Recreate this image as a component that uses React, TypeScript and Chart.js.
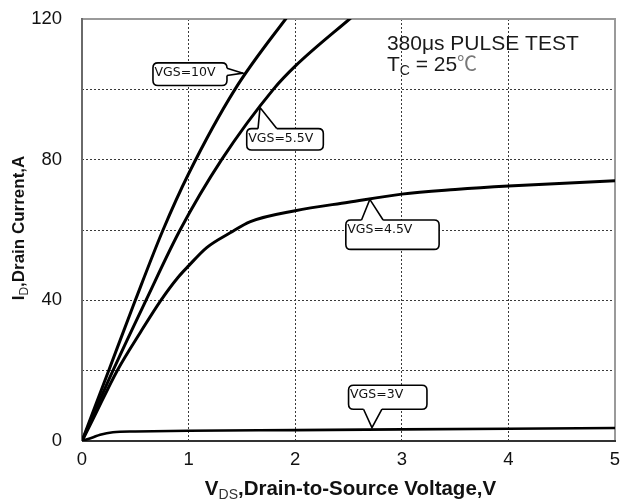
import React, { useEffect, useRef } from 'react';
import { Chart, registerables } from 'chart.js';

Chart.register(...registerables);

// Axis ticks
const xTicks = [0, 1, 2, 3, 4, 5];
const yTickLabels = [0, 40, 80, 120];

// Series: V_DS (V) vs I_D (A)
const vgs10X = [0, 0.25, 0.5, 0.76, 1.0, 1.435, 1.91, 2.0];
const vgs10Y = [0, 20, 40, 60, 76, 100, 120, 123.5];
const vgs55X = [0, 0.29, 0.6, 0.92, 1.31, 1.795, 2.0, 2.51, 2.6];
const vgs55Y = [0, 20, 40, 60, 80, 100, 106.6, 120, 122.3];
const vgs45X = [0, 0.1, 0.33, 0.55, 0.74, 0.9, 1.0, 1.17, 1.39, 1.58, 2.0, 2.5, 3.0, 3.5, 4.0, 5.0];
const vgs45Y = [0, 6, 20, 31, 40, 46.5, 49.8, 55, 59.2, 62.4, 65.5, 67.9, 70.2, 71.5, 72.5, 74];
const vgs3X = [0, 0.1, 0.17, 0.29, 0.5, 1, 2, 3, 4, 5];
const vgs3Y = [0, 1.0, 1.8, 2.5, 2.7, 2.9, 3.1, 3.3, 3.5, 3.7];

const seriesNames = ['VGS=10V', 'VGS=5.5V', 'VGS=4.5V', 'VGS=3V'];
const seriesX = [vgs10X, vgs55X, vgs45X, vgs3X];
const seriesY = [vgs10Y, vgs55Y, vgs45Y, vgs3Y];

// Callout tips (data coordinates)
const calloutTipX = [1.51, 1.67, 2.7, 2.72];
const calloutTipY = [104.6, 94.8, 68.7, 3.8];

// Note text
const noteLine1 = '380\u03bcs PULSE TEST';
const noteX = 2.86;
const noteY1 = 111.1;
const noteY2 = 105.1;

const xTitleMain = 'V';
const xTitleSub = 'DS';
const xTitleRest = ',Drain-to-Source Voltage,V';
const yTitleMain = 'I';
const yTitleSub = 'D';
const yTitleRest = ',Drain Current,A';

// Callout geometry (pixels relative to tip)
const calloutBoxes = [
  { dx: -90, dy: -10.3, w: 74, h: 22.6, wedge: [[-16, -5], [-16, 2.3]], inward: [-2, 0] },
  { dx: -13.3, dy: 21, w: 76.6, h: 21.4, wedge: [[-2, 21], [16.7, 21]], inward: [0, 2] },
  { dx: -24, dy: 20.6, w: 93.3, h: 29.4, wedge: [[-8.3, 20.6], [13.3, 20.6]], inward: [0, 2] },
  { dx: -23.4, dy: -42.4, w: 78.4, h: 24, wedge: [[-8.4, -18.4], [10, -18.4]], inward: [0, -2] },
];

function roundRectPath(ctx: CanvasRenderingContext2D, x: number, y: number, w: number, h: number, r: number) {
  ctx.beginPath();
  ctx.moveTo(x + r, y);
  ctx.lineTo(x + w - r, y);
  ctx.quadraticCurveTo(x + w, y, x + w, y + r);
  ctx.lineTo(x + w, y + h - r);
  ctx.quadraticCurveTo(x + w, y + h, x + w - r, y + h);
  ctx.lineTo(x + r, y + h);
  ctx.quadraticCurveTo(x, y + h, x, y + h - r);
  ctx.lineTo(x, y + r);
  ctx.quadraticCurveTo(x, y, x + r, y);
  ctx.closePath();
}

type Part = { t: string; font: string; dy: number; color?: string };

function drawParts(ctx: CanvasRenderingContext2D, parts: Part[], x: number, y: number, align: 'left' | 'center') {
  let total = 0;
  const widths = parts.map((p) => {
    ctx.font = p.font;
    const w = ctx.measureText(p.t).width;
    total += w;
    return w;
  });
  let cx = align === 'center' ? x - total / 2 : x;
  ctx.textAlign = 'left';
  ctx.textBaseline = 'alphabetic';
  parts.forEach((p, i) => {
    ctx.font = p.font;
    ctx.fillStyle = p.color || '#000';
    ctx.fillText(p.t, cx, y + p.dy);
    cx += widths[i];
  });
}

const overlayPlugin = {
  id: 'overlays',
  beforeDatasetsDraw(chart: any) {
    const { ctx, chartArea: a } = chart;
    ctx.save();
    ctx.lineCap = 'butt';
    ctx.strokeStyle = '#9a9a9a';
    ctx.lineWidth = 2;
    ctx.beginPath();
    ctx.moveTo(a.left, a.top);
    ctx.lineTo(a.right, a.top);
    ctx.lineTo(a.right, a.bottom);
    ctx.stroke();
    ctx.strokeStyle = '#6a6a6a';
    ctx.beginPath();
    ctx.moveTo(a.left, a.top - 1);
    ctx.lineTo(a.left, a.bottom);
    ctx.stroke();
    ctx.strokeStyle = '#333';
    ctx.beginPath();
    ctx.moveTo(a.left, a.bottom);
    ctx.lineTo(a.right + 1, a.bottom);
    ctx.stroke();
    ctx.restore();
  },
  afterDatasetsDraw(chart: any) {
    const { ctx } = chart;
    const xs = chart.scales.x;
    const ys = chart.scales.y;
    ctx.save();
    seriesNames.forEach((name, i) => {
      const tx = xs.getPixelForValue(calloutTipX[i]);
      const ty = ys.getPixelForValue(calloutTipY[i]);
      const b = calloutBoxes[i];
      const bx = tx + b.dx;
      const by = ty + b.dy;
      ctx.lineWidth = 1.6;
      ctx.strokeStyle = '#000';
      ctx.fillStyle = '#fff';
      roundRectPath(ctx, bx, by, b.w, b.h, 5);
      ctx.fill();
      ctx.stroke();
      const p0 = [tx + b.wedge[0][0], ty + b.wedge[0][1]];
      const p1 = [tx + b.wedge[1][0], ty + b.wedge[1][1]];
      ctx.beginPath();
      ctx.moveTo(p0[0] + b.inward[0], p0[1] + b.inward[1]);
      ctx.lineTo(p0[0], p0[1]);
      ctx.lineTo(tx, ty);
      ctx.lineTo(p1[0], p1[1]);
      ctx.lineTo(p1[0] + b.inward[0], p1[1] + b.inward[1]);
      ctx.closePath();
      ctx.fill();
      ctx.beginPath();
      ctx.moveTo(p0[0], p0[1]);
      ctx.lineTo(tx, ty);
      ctx.lineTo(p1[0], p1[1]);
      ctx.stroke();
      ctx.fillStyle = '#111';
      ctx.font = '12.5px "DejaVu Sans"';
      ctx.textAlign = 'left';
      ctx.textBaseline = 'middle';
      ctx.fillText(name, bx + 1.5, by + 10);
    });

    const nx = xs.getPixelForValue(noteX);
    drawParts(ctx, [{ t: noteLine1, font: '21px "Liberation Sans"', dy: 0, color: '#1a1a1a' }], nx, ys.getPixelForValue(noteY1), 'left');
    drawParts(
      ctx,
      [
        { t: 'T', font: '21px "Liberation Sans"', dy: 0, color: '#1a1a1a' },
        { t: 'C', font: '14px "Liberation Sans"', dy: 4, color: '#1a1a1a' },
        { t: ' = 25', font: '21px "Liberation Sans"', dy: 0, color: '#1a1a1a' },
        { t: '\u2103', font: '20px "Noto Sans CJK SC"', dy: 0, color: '#777' },
      ],
      nx,
      ys.getPixelForValue(noteY2),
      'left'
    );
    ctx.restore();
  },
  afterDraw(chart: any) {
    const { ctx, chartArea: a } = chart;
    ctx.save();
    drawParts(
      ctx,
      [
        { t: xTitleMain, font: 'bold 20.5px "Liberation Sans"', dy: 0, color: '#111' },
        { t: xTitleSub, font: '14px "Liberation Sans"', dy: 4, color: '#333' },
        { t: xTitleRest, font: 'bold 20.5px "Liberation Sans"', dy: 0, color: '#111' },
      ],
      (a.left + a.right) / 2 + 2,
      495,
      'center'
    );
    ctx.translate(24, 228);
    ctx.rotate(-Math.PI / 2);
    drawParts(
      ctx,
      [
        { t: yTitleMain, font: 'bold 17px "Liberation Sans"', dy: 0, color: '#111' },
        { t: yTitleSub, font: '12px "Liberation Sans"', dy: 4, color: '#333' },
        { t: yTitleRest, font: 'bold 17px "Liberation Sans"', dy: 0, color: '#111' },
      ],
      0,
      0,
      'center'
    );
    ctx.restore();
  },
};

export default function App() {
  const ref = useRef<HTMLCanvasElement | null>(null);
  useEffect(() => {
    if (!ref.current) return;
    const gridColorX = (c: any) => (c.tick && (c.tick.value === 0 || c.tick.value === 5) ? 'rgba(0,0,0,0)' : '#3a3a3a');
    const gridColorY = (c: any) => (c.tick && (c.tick.value === 0 || c.tick.value === 120) ? 'rgba(0,0,0,0)' : '#3a3a3a');
    const chart = new Chart(ref.current, {
      type: 'line',
      data: {
        datasets: seriesNames.map((name, i) => ({
          label: name,
          data: seriesX[i].map((x, j) => ({ x, y: seriesY[i][j] })),
          borderColor: '#000',
          borderWidth: i === 3 ? 2.6 : 3,
          pointRadius: 0,
          fill: false,
          cubicInterpolationMode: 'monotone' as const,
        })),
      },
      options: {
        animation: false,
        responsive: true,
        maintainAspectRatio: false,
        layout: { padding: { top: 19, right: 7, left: 0, bottom: 0 } },
        plugins: { legend: { display: false }, tooltip: { enabled: false } },
        scales: {
          x: {
            type: 'linear',
            min: 0,
            max: 5,
            ticks: {
              stepSize: 1,
              color: '#111',
              font: { family: 'Liberation Sans', size: 18.5 },
              padding: 8,
              maxRotation: 0,
              callback: (v: any) => (xTicks.includes(Number(v)) ? String(v) : ''),
            },
            grid: { color: gridColorX, lineWidth: 1, drawTicks: false },
            border: { display: false, dash: [2, 2] },
            afterFit: (s: any) => {
              s.height = 62;
              s.paddingLeft = 0;
              s.paddingRight = 0;
            },
          },
          y: {
            type: 'linear',
            min: 0,
            max: 120,
            ticks: {
              stepSize: 20,
              color: '#111',
              font: { family: 'Liberation Sans', size: 18.5 },
              padding: 20,
              callback: (v: any) => (yTickLabels.includes(Number(v)) ? String(v) : ''),
            },
            grid: { color: gridColorY, lineWidth: 1, drawTicks: false },
            border: { display: false, dash: [2, 2] },
            afterFit: (s: any) => {
              s.width = 82;
              s.paddingTop = 0;
              s.paddingBottom = 0;
            },
          },
        },
      },
      plugins: [overlayPlugin],
    } as any);
    return () => chart.destroy();
  }, []);
  return (
    <div style={{ position: 'fixed', left: 0, top: 0, width: 622, height: 503, background: '#fff' }}>
      <canvas ref={ref} />
    </div>
  );
}
